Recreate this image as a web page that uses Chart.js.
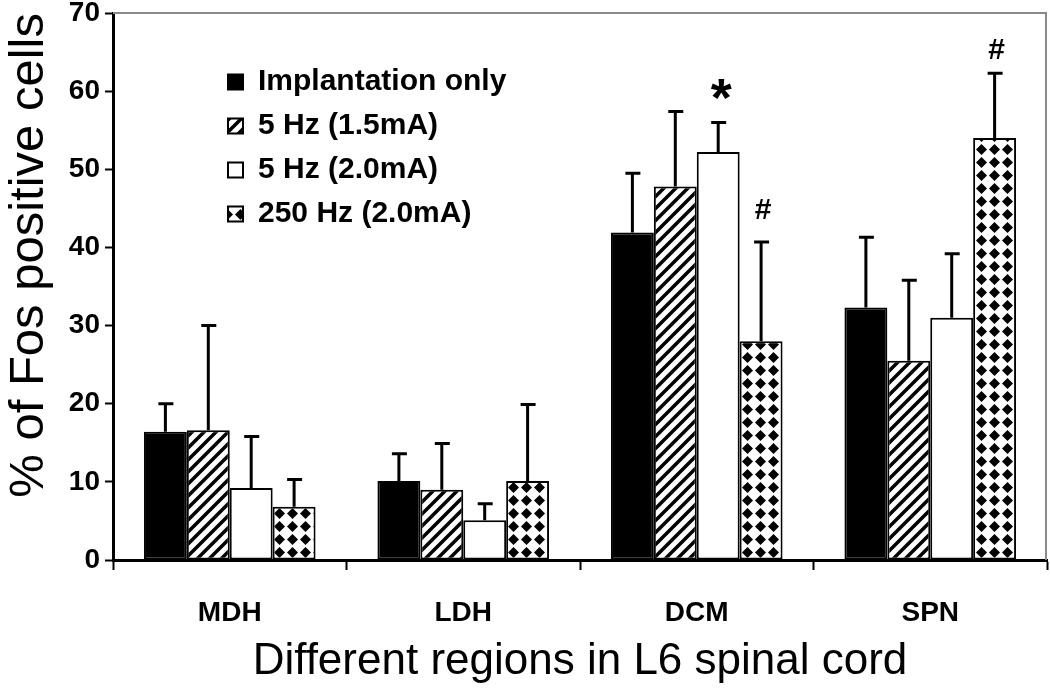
<!DOCTYPE html>
<html>
<head>
<meta charset="utf-8">
<script src="https://cdn.jsdelivr.net/npm/chart.js@4.4.1/dist/chart.umd.min.js"></script>
<style>
  html, body { margin: 0; padding: 0; background: #fff; }
  #wrap { width: 1050px; height: 688px; }
</style>
</head>
<body>
<div id="wrap"><canvas id="chartCanvas" width="1050" height="688"></canvas></div>
<script>
// Regions on the x axis
const categories = ['MDH', 'LDH', 'DCM', 'SPN'];

// Series names (legend)
const seriesNames = ['Implantation only', '5 Hz (1.5mA)', '5 Hz (2.0mA)', '250 Hz (2.0mA)'];

// Mean % of Fos positive cells
const implantOnly = [16.4, 10.1, 41.9, 32.3];
const hz5Low = [16.6, 9.0, 47.8, 25.5];
const hz5High = [9.2, 5.1, 52.2, 31.0];
const hz250 = [6.8, 10.1, 28.0, 54.0];

// Upper error bars (SEM)
const implantOnlyErr = [3.6, 3.5, 7.6, 9.0];
const hz5LowErr = [13.4, 5.9, 9.6, 10.3];
const hz5HighErr = [6.6, 2.1, 3.8, 8.2];
const hz250Err = [3.5, 9.8, 12.7, 8.3];

// y axis ticks
const yTicks = [0, 10, 20, 30, 40, 50, 60, 70];

// Significance marks: which series / category gets which symbol
const marks = [
    { series: 2, category: 2, text: '*' },
    { series: 3, category: 2, text: '#' },
    { series: 3, category: 3, text: '#' }
];
// how far (px) above the error cap each mark sits
const markLift = [27, 31, 22];

const FONT = '"Liberation Sans", Arial, sans-serif';

//Diagonal hatch pattern for the 5 Hz (1.5mA) bars
function makeHatch() {
    const c = document.createElement('canvas');
    c.width = c.height = 12;
    const g = c.getContext('2d');
    g.fillStyle = '#fff';
    g.fillRect(0, 0, 12, 12);
    g.strokeStyle = '#000';
    g.lineWidth = 3.5;
    g.beginPath();
    g.moveTo(-3, 15); g.lineTo(15, -3);
    g.moveTo(-3, 3); g.lineTo(3, -3);
    g.moveTo(9, 15); g.lineTo(15, 9);
    g.stroke();
    return g.createPattern(c, 'repeat');
}

//Diamond check pattern for the 250 Hz bars
function makeDiamonds() {
    const s = 13;
    const c = document.createElement('canvas');
    c.width = c.height = s;
    const g = c.getContext('2d');
    g.fillStyle = '#fff';
    g.fillRect(0, 0, s, s);
    g.fillStyle = '#000';
    const m = s / 2, r = 5.5;
    g.beginPath();
    g.moveTo(m, m - r); g.lineTo(m + r, m); g.lineTo(m, m + r); g.lineTo(m - r, m);
    g.closePath();
    g.fill();
    return g.createPattern(c, 'repeat');
}

const values = [implantOnly, hz5Low, hz5High, hz250];
const errors = [implantOnlyErr, hz5LowErr, hz5HighErr, hz250Err];
const fills = ['#000', makeHatch(), '#fff', makeDiamonds()];

//Gray frame on the top and right of the plot area
const frame = {
    id: 'frame',
    beforeDatasetsDraw(chart) {
        const a = chart.chartArea;
        const ctx = chart.ctx;
        ctx.save();
        ctx.strokeStyle = '#8a8a8a';
        ctx.lineWidth = 2;
        ctx.beginPath();
        ctx.moveTo(a.left, a.top);
        ctx.lineTo(a.right - 1, a.top);
        ctx.lineTo(a.right - 1, a.bottom);
        ctx.stroke();
        ctx.restore();
    }
};

//Draws the upward error bars from each bar top
const errorBars = {
    id: 'errorBars',
    afterDatasetsDraw(chart) {
        const ctx = chart.ctx;
        const y = chart.scales.y;
        ctx.save();
        ctx.strokeStyle = '#000';
        ctx.lineWidth = 3;
        chart.data.datasets.forEach((ds, i) => {
            chart.getDatasetMeta(i).data.forEach((bar, j) => {
                const top = y.getPixelForValue(values[i][j] + errors[i][j]);
                ctx.beginPath();
                ctx.moveTo(bar.x, bar.y);
                ctx.lineTo(bar.x, top);
                ctx.moveTo(bar.x - 7, top);
                ctx.lineTo(bar.x + 8, top);
                ctx.stroke();
            });
        });
        // significance symbols above the error bars
        ctx.fillStyle = '#000';
        ctx.textAlign = 'center';
        ctx.textBaseline = 'middle';
        marks.forEach((mk, k) => {
            const bar = chart.getDatasetMeta(mk.series).data[mk.category];
            const top = y.getPixelForValue(values[mk.series][mk.category] + errors[mk.series][mk.category]);
            if (mk.text === '*') {
                ctx.font = 'bold 54px ' + FONT;
                ctx.fillText(mk.text, bar.x + 3, top - markLift[k] + 6);
            } else {
                ctx.font = 'bold 30px ' + FONT;
                ctx.fillText(mk.text, bar.x + 2, top - markLift[k]);
            }
        });
        ctx.restore();
    }
};

//Moves the legend into the upper left of the plot
const legendPlace = {
    id: 'legendPlace',
    beforeDraw(chart) {
        const lg = chart.legend;
        lg.left = 214;
        lg.top = 53;
        lg.bottom = 560;
    }
};

const ctx = document.getElementById('chartCanvas');
window.myChart = new Chart(ctx, {
    type: 'bar',
    data: {
        labels: categories,
        datasets: seriesNames.map((name, i) => ({
            label: name,
            data: values[i],
            backgroundColor: fills[i],
            borderColor: '#000',
            borderWidth: 2,
            borderSkipped: false,
            categoryPercentage: 0.735,
            barPercentage: 1.0
        }))
    },
    options: {
        responsive: false,
        animation: false,
        devicePixelRatio: 1,
        layout: { padding: { left: 0, right: 3, top: 13, bottom: 0 } },
        plugins: {
            tooltip: { enabled: false },
            legend: {
                position: 'chartArea',
                align: 'start',
                labels: {
                    boxWidth: 15,
                    boxHeight: 15,
                    padding: 14,
                    color: '#000',
                    font: { family: FONT, size: 30, weight: 'bold' }
                }
            }
        },
        scales: {
            x: {
                afterFit(scale) { scale.height = 128; },
                border: { color: '#000', width: 3 },
                grid: {
                    offset: true,
                    drawOnChartArea: false,
                    color: '#000',
                    tickColor: '#000',
                    tickWidth: 2,
                    tickLength: 10
                },
                ticks: {
                    color: '#000',
                    padding: 26,
                    font: { family: FONT, size: 28, weight: 'bold' }
                },
                title: {
                    display: true,
                    text: 'Different regions in L6 spinal cord',
                    color: '#000',
                    font: { family: FONT, size: 44, lineHeight: 1 },
                    padding: { top: 0, bottom: 4 }
                }
            },
            y: {
                min: 0,
                max: 70,
                afterFit(scale) {
                    scale.width = 113;
                    scale.paddingTop = 13;
                },
                afterBuildTicks(scale) { scale.ticks = yTicks.map((v) => ({ value: v })); },
                border: { color: '#000', width: 3 },
                grid: {
                    drawOnChartArea: false,
                    color: '#000',
                    tickColor: '#000',
                    tickWidth: 2,
                    tickLength: 8
                },
                ticks: {
                    color: '#000',
                    padding: 5,
                    font: { family: FONT, size: 28, weight: 'bold', lineHeight: 1 }
                },
                title: {
                    display: true,
                    text: '% of Fos positive cells',
                    align: 'end',
                    color: '#000',
                    font: { family: FONT, size: 49, lineHeight: 1 },
                    padding: { top: 5, bottom: 0 }
                }
            }
        }
    },
    plugins: [frame, errorBars, legendPlace]
});
</script>
</body>
</html>
